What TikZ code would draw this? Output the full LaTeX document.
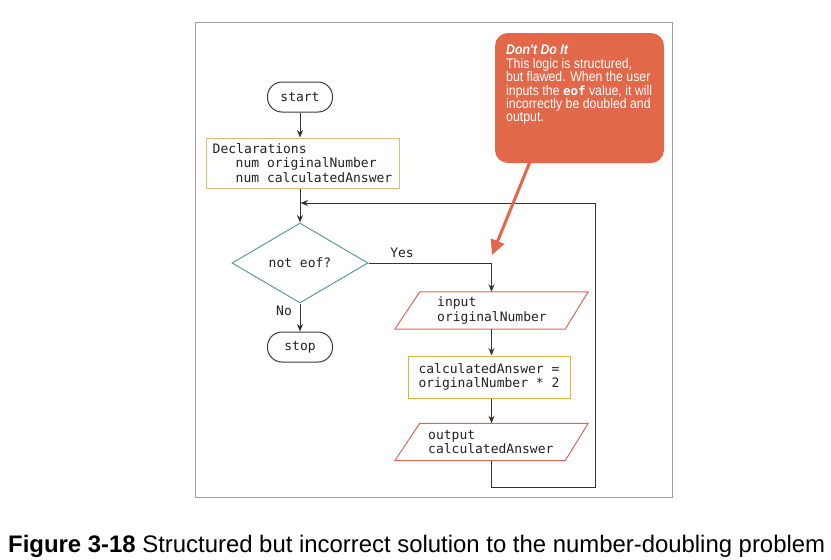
\documentclass[tikz,border=0pt]{standalone}
\usepackage{fontspec}
\setmainfont{Liberation Sans}
\newfontfamily\monof{DejaVu Sans Mono}
\newfontfamily\notef[FakeStretch=0.88]{Liberation Sans}
\newcommand\msp{\hspace*{0.602em}}
\usetikzlibrary{shapes.geometric,arrows.meta,calc}
\definecolor{framegray}{HTML}{A0A0A0}
\definecolor{termc}{HTML}{3A3A3A}
\definecolor{declc}{HTML}{EAB77A}
\definecolor{calcc}{HTML}{E2B23C}
\definecolor{ioc}{HTML}{D9695A}
\definecolor{diac}{HTML}{5E9C9A}
\definecolor{notec}{HTML}{E2684A}
\definecolor{linec}{HTML}{333333}
\definecolor{textc}{HTML}{222222}
\tikzset{
  mono/.style={font=\monof\fontsize{13}{14.7}\selectfont, text=textc},
  term/.style={mono, draw=termc, line width=1pt, rounded corners=14.5pt, minimum width=65pt, minimum height=30pt, inner sep=0pt},
  declbox/.style={mono, draw=declc, line width=1pt, minimum width=193pt, minimum height=50pt, inner sep=0pt, align=left},
  calcbox/.style={mono, draw=calcc, line width=1pt, minimum width=162pt, minimum height=42pt, inner sep=0pt, align=left},
  iobox/.style={minimum width=193pt, minimum height=37pt, inner sep=0pt},
  iotext/.style={mono, anchor=west, align=left, inner sep=0pt},
  decision/.style={mono, diamond, draw=diac, line width=1pt, minimum width=136pt, minimum height=80pt, inner sep=0pt, aspect=1.7},
  flow/.style={draw=linec, line width=1pt, -{Stealth[length=7.5pt,width=6pt]}},
  notebox/.style={fill=notec, rounded corners=13pt, minimum width=169pt, minimum height=130pt, inner sep=0pt},
  notetext/.style={anchor=north west, align=left, text=white, inner sep=0pt, font=\notef\fontsize{14}{13.4}\selectfont},
  notearrow/.style={draw=notec, line width=3pt, -{Triangle[length=15pt,width=14pt]}},
}
\begin{document}
\begin{tikzpicture}[x=1pt,y=-1pt]
\useasboundingbox (0,0) rectangle (831,560);
\fill[white] (0,0) rectangle (831,560);
% frame
\draw[framegray, line width=1pt] (195,22) rectangle (672,497);

% nodes
\node[term] (start) at (300,97) {start};
\node[declbox] (decl) at (302.5,163) {Declarations\\\hspace*{23pt}num\msp originalNumber\\\hspace*{23pt}num\msp calculatedAnswer};
\node[decision] (dia) at (300,263) {not\msp eof?};
\node[term] (stop) at (300,347) {stop};

\node[iobox] (in) at (491.5,310.5) {};
\draw[ioc, line width=1pt] (in.south west) -- ($(in.south east)+(-23,0)$) -- (in.north east) -- ($(in.north west)+(25,0)$) -- cycle;
\node[iotext] (intext) at (437,310.5) {input\\originalNumber};

\node[calcbox] (calc) at (489,377) {calculatedAnswer\msp=\\originalNumber\msp*\msp2};

\node[iobox] (out) at (491.5,442) {};
\draw[ioc, line width=1pt] (out.south west) -- ($(out.south east)+(-23,0)$) -- (out.north east) -- ($(out.north west)+(25,0)$) -- cycle;
\node[iotext] (outtext) at (428,442) {output\\calculatedAnswer};

% labels
\node[mono] (yes) at (402,253) {Yes};
\node[mono] (no) at (284,311) {No};

% connectors
\draw[flow] (start.south) -- (start.south |- decl.north);
\draw[flow] (dia.north |- decl.south) -- (dia.north);
\draw[flow] (dia.east) -| (in.north);
\draw[flow] (dia.south) -- (stop.north);
\draw[flow] (in.south) -- (in.south |- calc.north);
\draw[flow] (in.south |- calc.south) -- (out.north);
\coordinate (lb) at (491.5,487);
\coordinate (rb) at (595,487);
\coordinate (rt) at (595,203);
\coordinate (lj) at (300.5,203);
\draw[flow] (out.south) -- (lb) -- (rb) -- (rt) -- (lj);

% callout
\node[notebox] (note) at (579.5,98) {};
\node[notetext] (notet) at (506,45) {\textbf{\textit{Don't Do It}}\\This logic is structured,\\but flawed. When the user\\inputs the {\monof\bfseries\fontsize{12.5}{13.4}\selectfont eof} value, it will\\incorrectly be doubled and\\output.};
\coordinate (notefoot) at ($(note.south west)+(35,-1)$);
\coordinate (notetip) at (492,255);
\draw[notearrow] (notefoot) -- (notetip);

% caption
\node[anchor=base west, inner sep=0pt, font=\fontsize{23.9}{28}\selectfont, text=black] (cap) at (8,552) {\textbf{Figure 3-18} Structured but incorrect solution to the number-doubling problem};
\end{tikzpicture}
\end{document}
